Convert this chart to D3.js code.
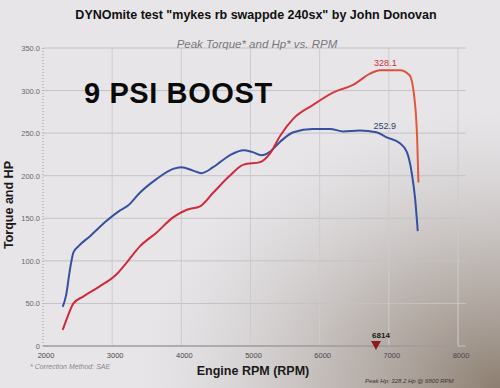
<!DOCTYPE html>
<html>
<head>
<meta charset="utf-8">
<script src="https://cdn.jsdelivr.net/npm/d3@7"></script>
<style>
  body { margin: 0; background: #e4e2e5; }
  svg { display: block; font-family: "Liberation Sans", Arial, sans-serif; }
</style>
</head>
<body>
<script>
// torque curve (blue)
var rpmTorque = [2285, 2335, 2390, 2440, 2510, 2680, 2920, 3110, 3230, 3400, 3640, 3880, 4000, 4170, 4290, 4460, 4700, 4900, 5020, 5160, 5280, 5430, 5620, 5900, 6150, 6340, 6580, 6820, 6970, 7160, 7260, 7330, 7380, 7418];
var torque    = [46, 60, 90, 110, 117, 129, 147, 159, 165, 180, 196, 208, 210, 206, 203, 210, 224, 230, 228, 224, 228, 240, 251, 255, 255, 252, 253, 251, 245, 238, 228, 204, 173, 135];

// hp curve (red)
var rpmHp = [2285, 2340, 2440, 2580, 2820, 3060, 3210, 3400, 3640, 3880, 4080, 4270, 4460, 4700, 4900, 5140, 5280, 5430, 5620, 5900, 6200, 6490, 6730, 6870, 7160, 7300, 7380, 7410, 7428];
var hp    = [19, 31, 50, 58, 70, 84, 98, 117, 133, 151, 160, 164, 180, 200, 213, 216, 226, 247, 267, 283, 298, 307, 320, 324, 324, 318, 283, 243, 192];

var yTicks = [0, 50, 100, 150, 200, 250, 300, 350];
var yTickLabels = ["0", "50.0", "100.0", "150.0", "200.0", "250.0", "300.0", "350.0"];
var xTicks = [2000, 3000, 4000, 5000, 6000, 7000, 8000];

var peakHpLabel = "328.1", peakHpRpm = 6950, peakHpVal = 324;
var peakTqLabel = "252.9", peakTqRpm = 6940, peakTqVal = 251;
var markerRpm = 6814;

var width = 500, height = 388;
var margin = {left: 43, right: 42, top: 48, bottom: 42};

var svg = d3.select("body").append("svg").attr("width", width).attr("height", height);

// paper background + shadow at bottom right
var defs = svg.append("defs");
var shade = defs.append("radialGradient").attr("id", "shade")
    .attr("cx", 1).attr("cy", 1).attr("r", 0.72);
shade.append("stop").attr("offset", 0).attr("stop-color", "#8c7e70").attr("stop-opacity", 1);
shade.append("stop").attr("offset", 0.45).attr("stop-color", "#a89e96").attr("stop-opacity", 0.65);
shade.append("stop").attr("offset", 1).attr("stop-color", "#c8c4c4").attr("stop-opacity", 0);
svg.append("rect").attr("width", width).attr("height", height).attr("fill", "#e7e5e8");
svg.append("rect").attr("width", width).attr("height", height).attr("fill", "url(#shade)");

var x = d3.scaleLinear().domain([2000, 8000]).range([margin.left, width - margin.right]);
var y = d3.scaleLinear().domain([0, 350]).range([height - margin.bottom, margin.top]);

// red line fades to orange on the lit right side
var redGrad = defs.append("linearGradient").attr("id", "redGrad")
    .attr("gradientUnits", "userSpaceOnUse")
    .attr("x1", x(5500)).attr("x2", x(7400)).attr("y1", 0).attr("y2", 0);
redGrad.append("stop").attr("offset", 0).attr("stop-color", "#cf2a3c");
redGrad.append("stop").attr("offset", 1).attr("stop-color", "#e0583e");

// grid
var grid = svg.append("g");
grid.selectAll(".hg").data(yTicks).enter().append("line")
    .attr("x1", x(2000)).attr("x2", x(8000) + 8)
    .attr("y1", function(d){return y(d);}).attr("y2", function(d){return y(d);})
    .attr("stroke", "#c4c2c6").attr("stroke-width", 1);
grid.selectAll(".vg").data(xTicks.slice(1)).enter().append("line")
    .attr("x1", function(d){return x(d);}).attr("x2", function(d){return x(d);})
    .attr("y1", y(350)).attr("y2", y(0))
    .attr("stroke", "#cdcbcf").attr("stroke-width", 1);
// left dotted axis
grid.append("line").attr("x1", x(2000)).attr("x2", x(2000)).attr("y1", y(350)).attr("y2", y(0))
    .attr("stroke", "#9a989c").attr("stroke-dasharray", "1,2");
grid.append("line").attr("x1", x(2000)).attr("x2", x(8000)).attr("y1", y(0)).attr("y2", y(0))
    .attr("stroke", "#8a888c");

// y tick labels
svg.append("g").selectAll("text").data(yTicks).enter().append("text")
    .attr("x", x(2000) - 3).attr("y", function(d){return y(d) + 3;})
    .attr("text-anchor", "end").attr("font-size", 7.5).attr("fill", "#6a686c")
    .text(function(d, i){return yTickLabels[i];});

// x tick labels
svg.append("g").selectAll("text").data(xTicks).enter().append("text")
    .attr("x", function(d){return x(d) + 3;}).attr("y", y(0) + 12)
    .attr("text-anchor", "middle").attr("font-size", 7.5).attr("fill", "#4a484c")
    .text(function(d){return d;});

var line = d3.line().curve(d3.curveMonotoneX)
    .x(function(d){return x(d[0]);})
    .y(function(d){return y(d[1]);});

svg.append("path").attr("d", line(d3.zip(rpmTorque, torque)))
    .attr("fill", "none").attr("stroke", "#35509e").attr("stroke-width", 2);
svg.append("path").attr("d", line(d3.zip(rpmHp, hp)))
    .attr("fill", "none").attr("stroke", "url(#redGrad)").attr("stroke-width", 2);

// peak labels
svg.append("text").attr("x", x(peakHpRpm)).attr("y", y(peakHpVal) - 4)
    .attr("text-anchor", "middle").attr("font-size", 9).attr("fill", "#c83038").text(peakHpLabel);
svg.append("text").attr("x", x(peakTqRpm)).attr("y", y(peakTqVal) - 3)
    .attr("text-anchor", "middle").attr("font-size", 9).attr("fill", "#2f3f6a").text(peakTqLabel);

// rpm marker
var mx = x(markerRpm), my = y(0);
svg.append("path").attr("d", "M" + (mx - 5) + "," + (my - 5) + "L" + (mx + 5) + "," + (my - 5) + "L" + mx + "," + (my + 4) + "Z")
    .attr("fill", "#8e1a1c");
svg.append("text").attr("x", mx + 5).attr("y", my - 8).attr("text-anchor", "middle")
    .attr("font-size", 8).attr("font-weight", "bold").attr("fill", "#1a1a1a").text(markerRpm);

// titles
svg.append("text").attr("x", 256).attr("y", 19).attr("text-anchor", "middle")
    .attr("font-size", 12.5).attr("font-weight", "bold").attr("fill", "#111")
    .text("DYNOmite test \"mykes rb swappde 240sx\" by John Donovan");
svg.append("text").attr("x", 257).attr("y", 48).attr("text-anchor", "middle")
    .attr("font-size", 11.5).attr("font-style", "italic").attr("fill", "#7a787c")
    .text("Peak Torque* and Hp* vs. RPM");

svg.append("text").attr("x", 84).attr("y", 103)
    .attr("font-size", 29).attr("font-weight", "bold").attr("fill", "#0a0a0a")
    .attr("letter-spacing", 0.6)
    .text("9 PSI BOOST");

svg.append("text").attr("transform", "translate(13,205) rotate(-90)").attr("text-anchor", "middle")
    .attr("font-size", 12.5).attr("font-weight", "bold").attr("fill", "#1a1a1a")
    .text("Torque and HP");

svg.append("text").attr("x", 253).attr("y", 375).attr("text-anchor", "middle")
    .attr("font-size", 12.5).attr("font-weight", "bold").attr("fill", "#1a1a1a")
    .text("Engine RPM (RPM)");

svg.append("text").attr("x", 30).attr("y", 369)
    .attr("font-size", 7).attr("font-style", "italic").attr("fill", "#8a8890")
    .text("* Correction Method: SAE");
svg.append("text").attr("x", 365).attr("y", 383)
    .attr("font-size", 6).attr("font-style", "italic").attr("fill", "#3a3430")
    .text("Peak Hp: 328.2 Hp @ 6800 RPM");
</script>
</body>
</html>
